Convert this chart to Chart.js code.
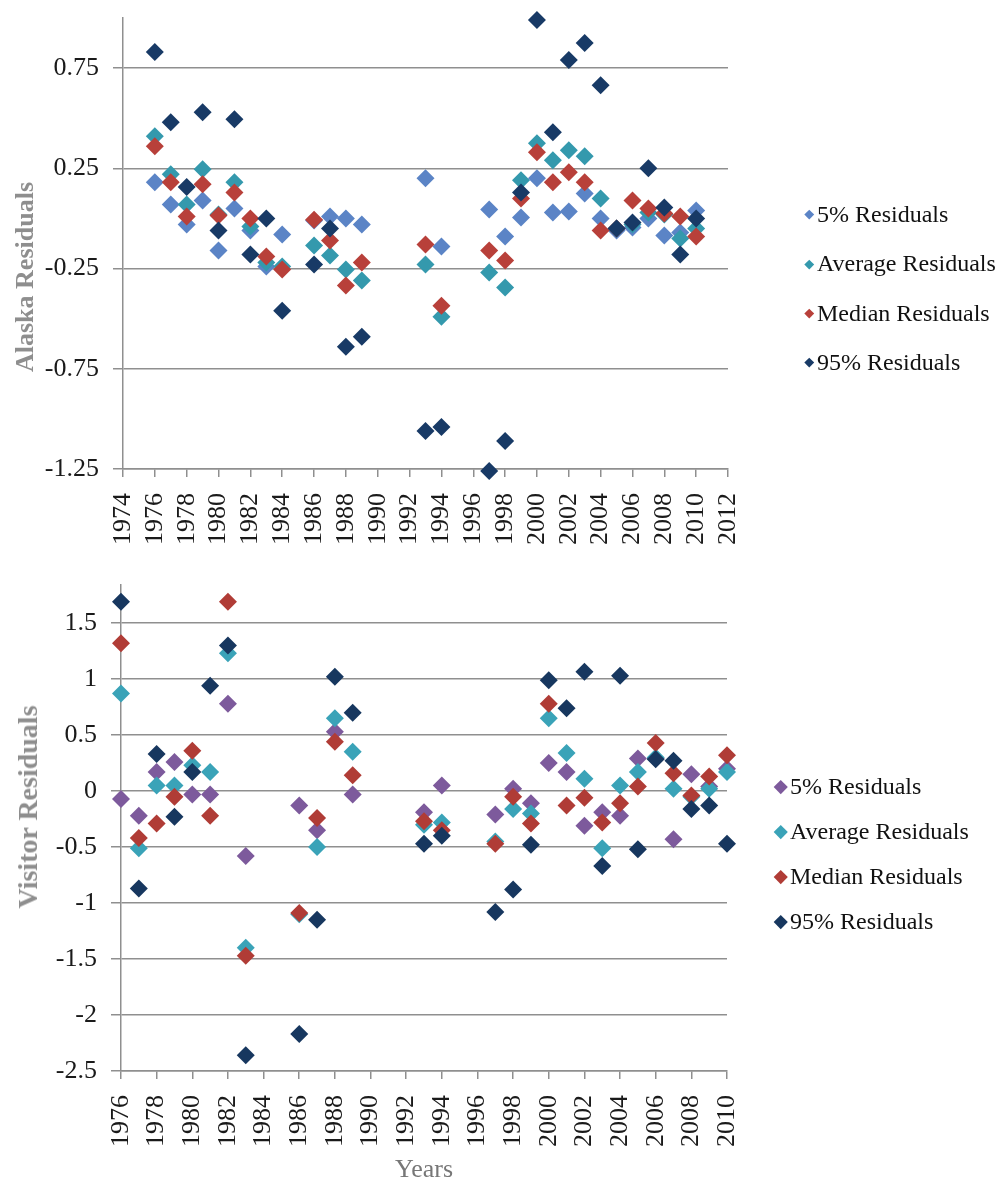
<!DOCTYPE html>
<html lang="en">
<head>
  <meta charset="UTF-8">
  <title>Alaska and Visitor Residuals</title>
  <script src="https://cdn.jsdelivr.net/npm/chart.js"></script>
  <style>
    html, body {
      margin: 0;
      padding: 0;
      background: #fff;
      overflow: hidden;
    }
    #page {
      position: relative;
      width: 1005px;
      height: 1186px;
      font-family: "Liberation Serif", "Times New Roman", serif;
    }
    canvas {
      position: absolute;
      left: 0;
    }
    .ytitle {
      position: absolute;
      white-space: nowrap;
      font-weight: bold;
      color: #8e8e8e;
      transform: translate(-50%, -50%) rotate(-90deg);
    }
    .legend {
      position: absolute;
      font-size: 24px;
      color: #111;
    }
    .legend .item {
      display: flex;
      align-items: center;
      white-space: nowrap;
    }
    .legend .mark {
      display: inline-block;
      transform: rotate(45deg);
    }
  </style>
</head>
<body>
<div id="page">
  <canvas id="alaskaChart" width="1005" height="565" style="top:0"></canvas>
  <canvas id="visitorChart" width="1005" height="621" style="top:565px"></canvas>
  <div class="ytitle" style="left:25px; top:277px; font-size:26px;">Alaska Residuals</div>
  <div class="ytitle" style="left:28px; top:807px; font-size:28px;">Visitor Residuals</div>
  <div class="legend" id="alaskaLegend" style="left:806px; top:190px;"></div>
  <div class="legend" id="visitorLegend" style="left:776px; top:764px;"></div>
</div>

<script>
  const seriesNames = ["5% Residuals", "Average Residuals", "Median Residuals", "95% Residuals"];

  // Alaska residuals
  const alaskaYears = [1976, 1977, 1978, 1979, 1980, 1981, 1982, 1983, 1984, 1986, 1987, 1988, 1989,
    1993, 1994, 1997, 1998, 1999, 2000, 2001, 2002, 2003, 2004, 2005, 2006, 2007, 2008, 2009, 2010];
  const alaskaP5 = [0.18, 0.07, -0.03, 0.09, -0.16, 0.05, -0.06, -0.24, -0.08, -0.01, 0.01, 0.0, -0.03,
    0.2, -0.14, 0.045, -0.09, 0.005, 0.2, 0.03, 0.035, 0.125, 0.0, -0.06, -0.045, 0.0, -0.085, -0.07, 0.04];
  const alaskaAvg = [0.41, 0.22, 0.07, 0.245, 0.02, 0.18, -0.04, -0.22, -0.24, -0.135, -0.185, -0.255, -0.31,
    -0.23, -0.49, -0.27, -0.345, 0.19, 0.375, 0.29, 0.34, 0.31, 0.10, -0.05, -0.03, 0.03, 0.02, -0.1, -0.05];
  const alaskaMedian = [0.36, 0.18, 0.01, 0.17, 0.015, 0.13, 0.0, -0.19, -0.255, -0.006, -0.11, -0.335, -0.22,
    -0.13, -0.435, -0.16, -0.21, 0.1, 0.33, 0.18, 0.23, 0.18, -0.06, -0.05, 0.09, 0.05, 0.025, 0.01, -0.09];
  const alaskaP95 = [0.83, 0.48, 0.157, 0.53, -0.06, 0.495, -0.18, 0.0, -0.46, -0.23, -0.05, -0.64, -0.59,
    -1.06, -1.04, -1.26, -1.11, 0.13, 0.99, 0.43, 0.79, 0.875, 0.665, -0.05, -0.02, 0.25, 0.055, -0.18, 0.0];
  const alaskaXTicks = [1974, 1976, 1978, 1980, 1982, 1984, 1986, 1988, 1990, 1992, 1994, 1996,
    1998, 2000, 2002, 2004, 2006, 2008, 2010, 2012];
  const alaskaYTicks = [-1.25, -0.75, -0.25, 0.25, 0.75];

  // Visitor residuals
  const visitorYears = [1976, 1977, 1978, 1979, 1980, 1981, 1982, 1983, 1986, 1987, 1988, 1989,
    1993, 1994, 1997, 1998, 1999, 2000, 2001, 2002, 2003, 2004, 2005, 2006, 2007, 2008, 2009, 2010];
  const visitorP5 = [-0.07, -0.22, 0.17, 0.26, -0.03, -0.03, 0.78, -0.58, -0.13, -0.35, 0.53, -0.03,
    -0.19, 0.05, -0.21, 0.02, -0.11, 0.25, 0.17, -0.31, -0.19, -0.22, 0.29, 0.29, -0.43, 0.15, 0.04, 0.20];
  const visitorAvg = [0.87, -0.51, 0.05, 0.05, 0.23, 0.17, 1.23, -1.40, -1.10, -0.50, 0.65, 0.35,
    -0.30, -0.28, -0.45, -0.16, -0.20, 0.65, 0.34, 0.11, -0.51, 0.05, 0.17, 0.30, 0.02, -0.05, 0.02, 0.17];
  const visitorMedian = [1.32, -0.42, -0.29, -0.05, 0.36, -0.22, 1.69, -1.47, -1.09, -0.24, 0.44, 0.14,
    -0.27, -0.35, -0.47, -0.05, -0.29, 0.78, -0.13, -0.06, -0.28, -0.11, 0.04, 0.43, 0.16, -0.04, 0.13, 0.32];
  const visitorP95 = [1.69, -0.87, 0.33, -0.23, 0.17, 0.94, 1.30, -2.36, -2.17, -1.15, 1.02, 0.70,
    -0.47, -0.40, -1.08, -0.88, -0.48, 0.99, 0.74, 1.065, -0.67, 1.03, -0.52, 0.285, 0.27, -0.16, -0.13, -0.47];
  const visitorXTicks = [1976, 1978, 1980, 1982, 1984, 1986, 1988, 1990, 1992, 1994, 1996,
    1998, 2000, 2002, 2004, 2006, 2008, 2010];
  const visitorYTicks = [-2.5, -2, -1.5, -1, -0.5, 0, 0.5, 1, 1.5];

  const alaskaColors = ["#5b84c6", "#3499ad", "#b8403a", "#183a66"];
  const visitorColors = ["#7d5a9c", "#3aa3b8", "#b03c36", "#17375f"];

  const serif = '"Liberation Serif", "Times New Roman", serif';
  const gridGray = "#8f8f8f";

  function points(years, values) {
    return years.map((yr, i) => ({ x: yr, y: values[i] }));
  }

  function makeChart(id, cfg) {
    const datasets = cfg.series.map((vals, i) => ({
      label: seriesNames[i],
      data: points(cfg.years, vals),
      pointStyle: "rectRot",
      pointRadius: 9,
      backgroundColor: cfg.colors[i],
      borderColor: cfg.colors[i],
      borderWidth: 0,
      order: cfg.series.length - i, // later series on top, like Excel
      clip: false
    }));

    return new Chart(document.getElementById(id), {
      type: "scatter",
      data: { datasets: datasets },
      options: {
        responsive: false,
        animation: false,
        events: [],
        layout: { padding: { top: cfg.padTop, left: 0, right: cfg.padRight, bottom: 0 } },
        plugins: {
          legend: { display: false },
          tooltip: { enabled: false }
        },
        scales: {
          x: {
            type: "linear",
            min: cfg.xTicks[0],
            max: cfg.xTicks[cfg.xTicks.length - 1],
            afterBuildTicks: axis => { axis.ticks = cfg.xTicks.map(v => ({ value: v })); },
            afterFit: axis => {
              axis.height = cfg.xHeight;
              axis.paddingLeft = 0;
              axis.paddingRight = 0;
            },
            grid: { drawOnChartArea: false, color: gridGray, lineWidth: 1.5, tickLength: 8 },
            border: { color: gridGray, width: 1.5 },
            ticks: {
              autoSkip: false,
              minRotation: 90,
              maxRotation: 90,
              padding: 16,
              color: "#1a1a1a",
              font: { family: serif, size: 26 },
              callback: v => String(v)
            },
            title: cfg.xTitle
              ? { display: true, text: cfg.xTitle, color: "#777", font: { family: serif, size: 26 }, padding: { top: 0, bottom: 0 } }
              : { display: false }
          },
          y: {
            min: cfg.yMin,
            max: cfg.yMax,
            afterBuildTicks: axis => { axis.ticks = cfg.yTicks.map(v => ({ value: v })); },
            afterFit: axis => {
              axis.width = cfg.yWidth;
              // plot edges are set by the layout padding, not by label overhang
              axis.paddingTop = 0;
              axis.paddingBottom = 0;
            },
            grid: { color: gridGray, lineWidth: 1.5, tickLength: 10 },
            border: { color: gridGray, width: 1.5 },
            ticks: {
              padding: 14,
              color: "#1a1a1a",
              font: { family: serif, size: 26 },
              callback: v => String(v)
            }
          }
        }
      }
    });
  }

  function buildLegend(chart, elId, rowHeight, markSize) {
    const box = document.getElementById(elId);
    chart.data.datasets.forEach(ds => {
      const row = document.createElement("div");
      row.className = "item";
      row.style.height = rowHeight + "px";
      const mark = document.createElement("span");
      mark.className = "mark";
      mark.style.width = markSize + "px";
      mark.style.height = markSize + "px";
      mark.style.marginRight = "4.5px";
      mark.style.background = ds.backgroundColor;
      const text = document.createElement("span");
      text.textContent = ds.label;
      row.appendChild(mark);
      row.appendChild(text);
      box.appendChild(row);
    });
  }

  const alaskaChart = makeChart("alaskaChart", {
    years: alaskaYears,
    series: [alaskaP5, alaskaAvg, alaskaMedian, alaskaP95],
    colors: alaskaColors,
    xTicks: alaskaXTicks,
    yTicks: alaskaYTicks,
    yMin: -1.25,
    yMax: 1.0,
    padTop: 18,
    padRight: 277,
    xHeight: 96,
    yWidth: 123
  });

  const visitorChart = makeChart("visitorChart", {
    years: visitorYears,
    series: [visitorP5, visitorAvg, visitorMedian, visitorP95],
    colors: visitorColors,
    xTicks: visitorXTicks,
    yTicks: visitorYTicks,
    yMin: -2.5,
    yMax: 1.84,
    padTop: 20,
    padRight: 278,
    xHeight: 115,
    yWidth: 121,
    xTitle: "Years"
  });

  buildLegend(alaskaChart, "alaskaLegend", 49.3, 6.5);
  buildLegend(visitorChart, "visitorLegend", 45, 9.5);
</script>
</body>
</html>
